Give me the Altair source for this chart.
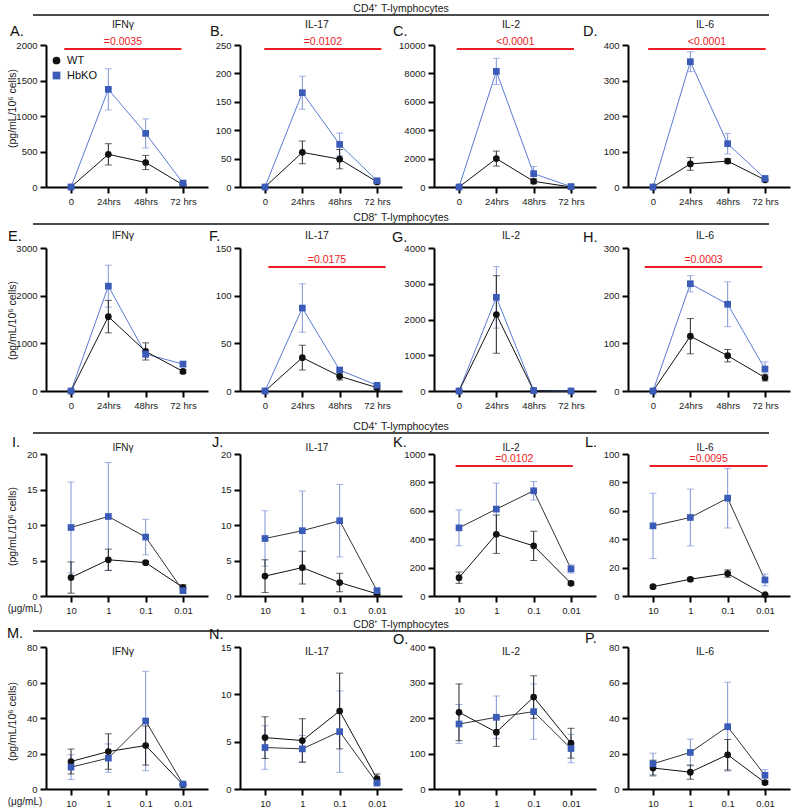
import json
import altair as alt
import pandas as pd

# ---------------- categories, labels ----------------
TIME_LABELS = ["0", "24hrs", "48hrs", "72 hrs"]
DOSE_LABELS = ["10", "1", "0.1", "0.01"]
GROUPS = ["WT", "HbKO"]
CYTOKINES = ["IFNγ", "IL-17", "IL-2", "IL-6"]
SECTIONS = ["CD4⁺ T-lymphocytes", "CD8⁺ T-lymphocytes",
            "CD4⁺ T-lymphocytes", "CD8⁺ T-lymphocytes"]
LETTERS = ["A.", "B.", "C.", "D.", "E.", "F.", "G.", "H.",
           "I.", "J.", "K.", "L.", "M.", "N.", "O.", "P."]
Y_TITLE = "(pg/mL/10⁶ cells)"
DOSE_UNIT = "(μg/mL)"

# y-axis extent and tick step of each panel, A..P
Y_MAX = [2000, 250, 10000, 400, 3000, 150, 4000, 300, 20, 20, 1000, 100, 80, 15, 400, 80]
Y_STEP = [500, 50, 2000, 100, 1000, 50, 1000, 100, 5, 5, 200, 20, 20, 5, 100, 20]

# ---------------- measured means and SEM ----------------
# CD4+ time course
A_WT = [0, 460, 345, 30];        A_WT_SEM = [0, 150, 100, 10]
A_KO = [0, 1375, 755, 55];       A_KO_SEM = [0, 290, 205, 15]
B_WT = [0, 61, 49, 9];           B_WT_SEM = [0, 20, 17, 3]
B_KO = [0, 166, 75, 11];         B_KO_SEM = [0, 29, 20, 3]
C_WT = [0, 2000, 400, 0];        C_WT_SEM = [0, 530, 170, 0]
C_KO = [0, 8140, 940, 30];       C_KO_SEM = [0, 920, 500, 20]
D_WT = [0, 65, 73, 20];          D_WT_SEM = [0, 18, 7, 5]
D_KO = [0, 353, 122, 24];        D_KO_SEM = [0, 28, 29, 4]
# CD8+ time course
E_WT = [0, 1560, 830, 410];      E_WT_SEM = [0, 340, 180, 40]
E_KO = [0, 2200, 775, 565];      E_KO_SEM = [0, 440, 70, 55]
F_WT = [0, 35, 15.5, 3.5];       F_WT_SEM = [0, 13, 4, 2]
F_KO = [0, 87, 22, 6];           F_KO_SEM = [0, 25.5, 2, 1]
G_WT = [0, 2140, 10, 0];         G_WT_SEM = [0, 1085, 0, 0]
G_KO = [0, 2620, 10, 0];         G_KO_SEM = [0, 860, 0, 0]
H_WT = [0, 115, 74, 28];         H_WT_SEM = [0, 37, 13, 7]
H_KO = [0, 225, 182, 46];        H_KO_SEM = [0, 17, 47, 15]
# CD4+ dose response
I_WT = [2.6, 5.1, 4.7, 1.2];     I_WT_SEM = [2.2, 1.5, 0.2, 0.4]
I_KO = [9.65, 11.2, 8.3, 0.75];  I_KO_SEM = [6.4, 7.6, 2.5, 0.3]
J_WT = [2.8, 4.0, 1.9, 0.3];     J_WT_SEM = [2.3, 2.3, 1.3, 0.1]
J_KO = [8.1, 9.2, 10.6, 0.75];   J_KO_SEM = [3.9, 5.6, 5.1, 0.2]
K_WT = [129, 435, 353, 89];      K_WT_SEM = [40, 135, 103, 12]
K_KO = [480, 612, 741, 191];     K_KO_SEM = [126, 183, 65, 29]
L_WT = [6.6, 11.8, 15.8, 0.9];   L_WT_SEM = [1, 1.2, 2.6, 0.5]
L_KO = [49.4, 55.3, 68.9, 11.3]; L_KO_SEM = [23, 20, 21, 4.2]
# CD8+ dose response
M_WT = [15.5, 21.1, 24.5, 2.4];  M_WT_SEM = [7, 10, 11, 0.5]
M_KO = [12.3, 17.4, 38.3, 2.8];  M_KO_SEM = [7, 8, 28, 0.5]
N_WT = [5.43, 5.12, 8.24, 1.09]; N_WT_SEM = [2.2, 2.3, 4.0, 0.5]
N_KO = [4.38, 4.24, 6.06, 0.63]; N_KO_SEM = [2.3, 1.4, 4.3, 0.2]
O_WT = [216, 160, 259, 129];     O_WT_SEM = [80, 40, 60, 42]
O_KO = [183, 202, 218, 114];     O_KO_SEM = [55, 60, 78, 40]
P_WT = [11.8, 9.5, 19.3, 3.6];   P_WT_SEM = [4.4, 4, 8.6, 1]
P_KO = [14.2, 20.6, 35.1, 7.7];  P_KO_SEM = [6, 7.5, 25, 3.2]

SERIES = {
    "A": (A_WT, A_WT_SEM, A_KO, A_KO_SEM), "B": (B_WT, B_WT_SEM, B_KO, B_KO_SEM),
    "C": (C_WT, C_WT_SEM, C_KO, C_KO_SEM), "D": (D_WT, D_WT_SEM, D_KO, D_KO_SEM),
    "E": (E_WT, E_WT_SEM, E_KO, E_KO_SEM), "F": (F_WT, F_WT_SEM, F_KO, F_KO_SEM),
    "G": (G_WT, G_WT_SEM, G_KO, G_KO_SEM), "H": (H_WT, H_WT_SEM, H_KO, H_KO_SEM),
    "I": (I_WT, I_WT_SEM, I_KO, I_KO_SEM), "J": (J_WT, J_WT_SEM, J_KO, J_KO_SEM),
    "K": (K_WT, K_WT_SEM, K_KO, K_KO_SEM), "L": (L_WT, L_WT_SEM, L_KO, L_KO_SEM),
    "M": (M_WT, M_WT_SEM, M_KO, M_KO_SEM), "N": (N_WT, N_WT_SEM, N_KO, N_KO_SEM),
    "O": (O_WT, O_WT_SEM, O_KO, O_KO_SEM), "P": (P_WT, P_WT_SEM, P_KO, P_KO_SEM),
}

# significance brackets: panel, p-value text, height (data units)
SIG_PANELS = ["A", "B", "C", "D", "F", "H", "K", "L"]
SIG_TEXT = ["=0.0035", "=0.0102", "<0.0001", "<0.0001", "=0.0175", "=0.0003", "=0.0102", "=0.0095"]
SIG_LEVEL = [1944, 243, 9720, 389, 130, 260, 915, 91.5]
# horizontal extent of each bracket, in x-category units
SIG_X0 = [-0.18, -0.02, -0.06, -0.13, 0.09, -0.22, -0.09, -0.09]
SIG_X1 = [2.96, 3.12, 3.08, 3.02, 3.23, 2.93, 3.05, 3.07]

# ---------------- layout and style ----------------
FONT = "Liberation Sans"
PANEL_W = 162
COL_GAP = 32
ROW_GAP = 45
ROW_H = [142, 159, 160, 148]      # plot-area height of each row
ROW_TOP = [0, 16, 18, 6]          # y-axis starts this far below the plot-area top
X_PAD = 0.67
ORIGIN = (46, 45)
CANVAS = (793, 809)
TITLE_Y = [-20, 4, 12, 11]
TITLE_SIZE = [10.5, 10.5, 10, 10.5]
HEADER_Y = [-30, -8, -3, -10]
YTITLE_Y = [63, 88, 90, 80]
LETTER_POS = [(-36, -13), (-30, -13), (-41, -13), (-45, -13),
              (-38, 5), (-31, 5), (-42, 6), (-45, 6),
              (-34, 7), (-28, 7), (-41, 7), (-43, 7),
              (-39, -7), (-31, -6), (-41, -1), (-43, -2)]

WT_COLOR = "#111111"
KO_COLOR = "#3a5cb8"
KO_LINE_BLUE = "#5b7bd4"
KO_LINE_DARK = "#333333"
WT_ERR = "#222222"
KO_ERR = "#7d93d8"
RED = "#ee1c25"

color_scale = alt.Scale(domain=GROUPS, range=[WT_COLOR, KO_COLOR])
shape_scale = alt.Scale(domain=GROUPS, range=["circle", "square"])
LEGEND = alt.Legend(title=None, orient="none", legendX=5, legendY=10, padding=0,
                    labelFont=FONT, labelFontSize=11, labelColor="#111",
                    symbolSize=60, symbolStrokeWidth=0, rowPadding=3, labelOffset=5)


def one_row(**kw):
    return pd.DataFrame([kw])


def panel(k):
    row, col = divmod(k, 4)
    key = LETTERS[k][0]
    wt, wt_sem, ko, ko_sem = SERIES[key]
    ticks = TIME_LABELS if row < 2 else DOSE_LABELS
    H, top = ROW_H[row], ROW_TOP[row]

    recs = []
    for grp, means, sems in (("WT", wt, wt_sem), ("HbKO", ko, ko_sem)):
        for i, (m, s) in enumerate(zip(means, sems)):
            recs.append({"idx": i, "group": grp, "mean": m,
                         "lo": max(m - s, 0), "hi": m + s})
    df = pd.DataFrame(recs)

    xscale = alt.Scale(domain=[-X_PAD, 3 + X_PAD], nice=False, zero=False)
    yscale = alt.Scale(domain=[0, Y_MAX[k]], range=[H, top], nice=False, zero=True)
    xaxis = alt.Axis(values=[0, 1, 2, 3], labelExpr=json.dumps(ticks) + "[datum.value]",
                     title=None, labelOverlap=False, labelFlush=False)
    yvals = list(range(0, Y_MAX[k] + 1, Y_STEP[k]))
    if col == 0:
        yaxis = alt.Axis(values=yvals, format="d", title=Y_TITLE, titleX=-34,
                         titleY=YTITLE_Y[row], titleAngle=-90, titleAlign="center",
                         titleBaseline="middle", labelOverlap=False)
    else:
        yaxis = alt.Axis(values=yvals, format="d", title=None, labelOverlap=False)

    def X(f):
        return alt.X(f"{f}:Q", scale=xscale, axis=xaxis)

    def Y(f):
        return alt.Y(f"{f}:Q", scale=yscale, axis=yaxis)

    base = alt.Chart(df)
    layers = []
    ko_line = KO_LINE_BLUE if row < 2 else KO_LINE_DARK
    layers.append(base.transform_filter(alt.datum.group == "HbKO")
                  .mark_line(color=ko_line, strokeWidth=1)
                  .encode(x=X("idx"), y=Y("mean")))
    layers.append(base.transform_filter(alt.datum.group == "WT")
                  .mark_line(color=WT_COLOR, strokeWidth=1)
                  .encode(x=X("idx"), y=Y("mean")))
    for grp, colr in (("HbKO", KO_ERR), ("WT", WT_ERR)):
        sub = base.transform_filter(alt.datum.group == grp)
        layers.append(sub.mark_rule(color=colr, strokeWidth=1)
                      .encode(x=X("idx"), y=Y("lo"), y2="hi:Q"))
        for end in ("lo", "hi"):
            layers.append(sub.mark_tick(color=colr, orient="horizontal", size=7, thickness=1)
                          .encode(x=X("idx"), y=Y(end)))
    layers.append(base.mark_point(filled=True, opacity=1, size=45)
                  .encode(x=X("idx"), y=Y("mean"),
                          color=alt.Color("group:N", scale=color_scale, legend=LEGEND),
                          shape=alt.Shape("group:N", scale=shape_scale, legend=LEGEND)))

    if key in SIG_PANELS:
        j = SIG_PANELS.index(key)
        sig = alt.Chart(one_row(x0=SIG_X0[j], x1=SIG_X1[j], mid=(SIG_X0[j] + SIG_X1[j]) / 2,
                                level=SIG_LEVEL[j], label=SIG_TEXT[j]))
        layers.append(sig.mark_rule(color=RED, strokeWidth=2)
                      .encode(x=X("x0"), x2="x1:Q", y=Y("level")))
        layers.append(sig.mark_text(color=RED, font=FONT, fontSize=10.5, dy=-7, baseline="middle")
                      .encode(x=X("mid"), y=Y("level"), text="label:N"))

    # cytokine title
    layers.append(alt.Chart(one_row(t=CYTOKINES[col]))
                  .mark_text(font=FONT, fontSize=TITLE_SIZE[row], color="#1a1a1a", baseline="middle")
                  .encode(x=alt.value(PANEL_W / 2 - 4), y=alt.value(TITLE_Y[row]), text="t:N"))
    # panel letter
    lx, ly = LETTER_POS[k]
    layers.append(alt.Chart(one_row(t=LETTERS[k]))
                  .mark_text(font=FONT, fontSize=14.5, color="#111", align="left", baseline="middle")
                  .encode(x=alt.value(lx), y=alt.value(ly), text="t:N"))

    if col == 0:
        hy = HEADER_Y[row]
        layers.append(alt.Chart(one_row(t=SECTIONS[row]))
                      .mark_rule(color="#111", strokeWidth=1.5)
                      .encode(x=alt.value(-13), x2=alt.value(723), y=alt.value(hy)))
        layers.append(alt.Chart(one_row(t=SECTIONS[row]))
                      .mark_text(font=FONT, fontSize=10.5, color="#1a1a1a", baseline="middle")
                      .encode(x=alt.value(355), y=alt.value(hy - 6), text="t:N"))
        if row >= 2:
            layers.append(alt.Chart(one_row(t=DOSE_UNIT))
                          .mark_text(font=FONT, fontSize=10, color="#1a1a1a", baseline="middle")
                          .encode(x=alt.value(-21), y=alt.value(H + 13), text="t:N"))
    if k == 0:
        # invisible frame that pins the canvas extent
        layers.append(alt.Chart(one_row(t=0)).mark_rect(opacity=0)
                      .encode(x=alt.value(-ORIGIN[0]), x2=alt.value(CANVAS[0] - ORIGIN[0]),
                              y=alt.value(-ORIGIN[1]), y2=alt.value(CANVAS[1] - ORIGIN[1])))

    return alt.layer(*layers).properties(width=PANEL_W, height=H)


panels = [panel(k) for k in range(16)]

chart = (
    alt.concat(*panels, columns=4, spacing={"row": ROW_GAP, "column": COL_GAP},
               bounds="flush", align="each")
    .resolve_scale(x="independent", y="independent", color="shared", shape="shared")
    .properties(padding=0)
    .configure_view(strokeWidth=0)
    .configure_axis(domainColor="#000", domainWidth=2, tickColor="#000", tickWidth=2,
                    tickSize=6, labelFont=FONT, labelFontSize=9.5, labelColor="#1a1a1a",
                    labelPadding=3, titleFont=FONT, titleFontSize=10.5,
                    titleFontWeight="normal", titleColor="#1a1a1a", grid=False)
)

chart.save("out.html", embed_options={"renderer": "svg", "actions": False})
